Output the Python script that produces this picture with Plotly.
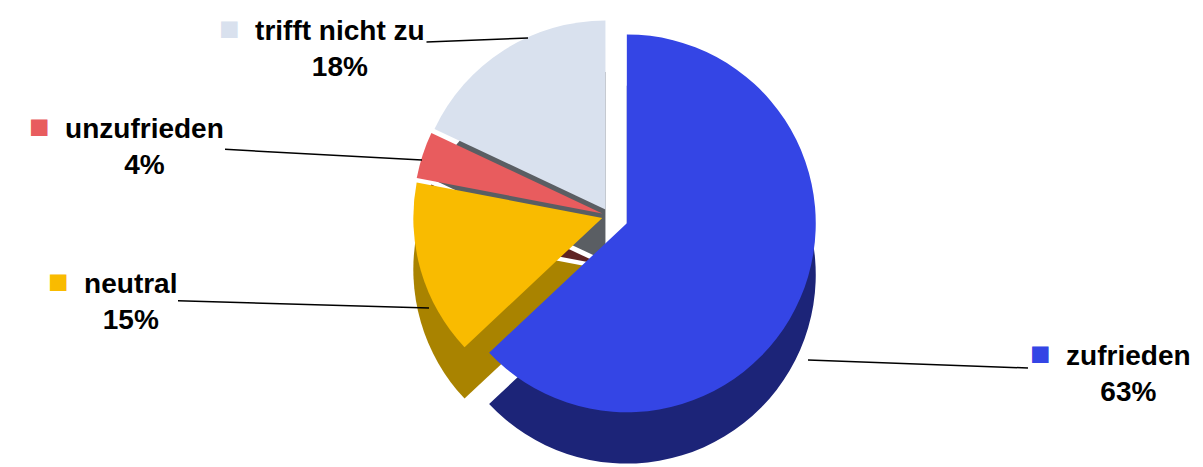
import plotly.graph_objects as go

# ---- data ----
labels = ["zufrieden", "neutral", "unzufrieden", "trifft nicht zu"]
values = [63, 15, 4, 18]
top_colors = ["#3445E5", "#F9BB00", "#E85C5E", "#D9E1EE"]
side_colors = ["#1C2478", "#A98300", "#5E2323", "#5A5E63"]
pulls = [0.10, 0.04, 0.04, 0.04]

W, H = 1203, 467

# label block centres (px) and leader-line end points (px) - layout only
label_pos = {
    "zufrieden": (1102, 363),
    "neutral": (104, 291),
    "unzufrieden": (118, 136),
    "trifft nicht zu": (314, 38),
}
leader_end = {
    "zufrieden": (800, 352),
    "neutral": (421, 300),
    "unzufrieden": (414, 152),
    "trifft nicht zu": (520, 30),
}

fig = go.Figure()

common = dict(
    labels=labels, values=values, sort=False, direction="clockwise",
    rotation=0, pull=pulls, textinfo="none", hoverinfo="skip",
    showlegend=False,
)
# side walls (extrusion) drawn first, offset downwards
fig.add_trace(go.Pie(domain=dict(x=[0, 1], y=[0.0, 0.89]),
                     marker=dict(colors=side_colors, line=dict(width=0)), **common))
# top faces
fig.add_trace(go.Pie(domain=dict(x=[0, 1], y=[0.11, 1.0]),
                     marker=dict(colors=top_colors, line=dict(width=0)), **common))

annotations = []
for lab, val, col in zip(labels, values, top_colors):
    tx, ty = label_pos[lab]
    hx, hy = leader_end[lab]
    txt = (f"<span style='color:{col};font-size:34px'>■</span>\u00a0\u00a0<b>{lab}</b><br>"
           f"<span style='color:rgba(0,0,0,0);font-size:34px'>■</span>\u00a0\u00a0<b>{val}%</b>")
    annotations.append(dict(
        x=hx / W, y=1 - hy / H, xref="paper", yref="paper",
        ax=tx - hx, ay=ty - hy, axref="pixel", ayref="pixel",
        text=txt, showarrow=True, arrowhead=0, arrowwidth=1.5,
        arrowcolor="black", standoff=0, align="center",
        font=dict(family="Liberation Sans, Arial, sans-serif", size=28,
                  color="black", weight="bold"),
    ))

fig.update_layout(
    width=W, height=H,
    margin=dict(l=0, r=0, t=0, b=0),
    paper_bgcolor="white", plot_bgcolor="white",
    annotations=annotations,
)

fig.write_html("out.html")
